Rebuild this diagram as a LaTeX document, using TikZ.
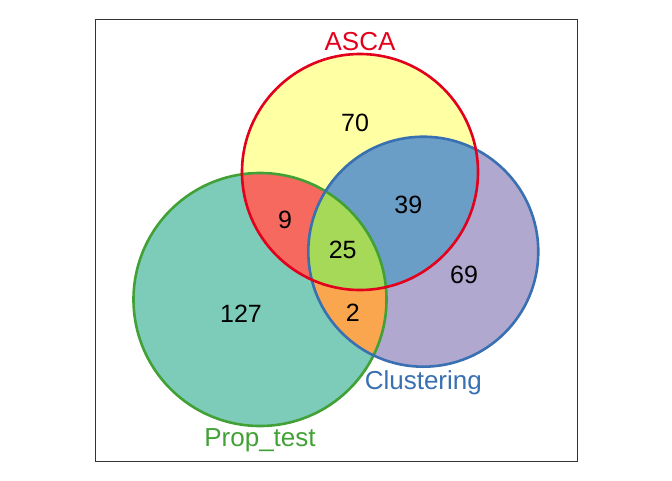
\documentclass[tikz,border=0pt]{standalone}
\usepackage{fontspec}
\setmainfont{Liberation Sans}

\definecolor{ascaline}{rgb}{0.89,0.0,0.11}
\definecolor{clustline}{rgb}{0.22,0.44,0.70}
\definecolor{propline}{rgb}{0.26,0.63,0.21}
\definecolor{ascafill}{rgb}{1.0,1.0,0.64}
\definecolor{clustfill}{rgb}{0.69,0.66,0.81}
\definecolor{propfill}{rgb}{0.49,0.80,0.73}
\definecolor{apfill}{rgb}{0.96,0.41,0.37}
\definecolor{acfill}{rgb}{0.42,0.62,0.78}
\definecolor{cpfill}{rgb}{0.98,0.65,0.31}
\definecolor{acpfill}{rgb}{0.65,0.85,0.34}

\begin{document}
\begin{tikzpicture}[x=1pt,y=-1pt]
    \useasboundingbox (0,0) rectangle (672,480);
    \draw [line width=0.8pt,color=black!80] (95,19)-- (577,19)-- (577,461)-- (95,461)-- cycle;
    % single sets
    \fill[color=ascafill] (360,172) circle (118);
    \fill[color=clustfill] (423.3,251.7) circle (115);
    \fill[color=propfill] (260,299.5) circle (126.5);
    % pairs
    \begin{scope}
        \clip (360,172) circle (118);
        \fill[color=acfill] (423.3,251.7) circle (115);
        \fill[color=apfill] (260,299.5) circle (126.5);
    \end{scope}
    \begin{scope}
        \clip (423.3,251.7) circle (115);
        \fill[color=cpfill] (260,299.5) circle (126.5);
        \clip (260,299.5) circle (126.5);
        \fill[color=acpfill] (360,172) circle (118);
    \end{scope}
    % outlines
    \draw [line width=2.6pt,color=propline] (260,299.5) circle (126.5);
    \draw [line width=2.6pt,color=clustline] (423.3,251.7) circle (115);
    \draw [line width=2.6pt,color=ascaline] (360,172) circle (118);
    \begin{scope}[font=\fontsize{25}{30}\selectfont]
        \node (n70) at (355,122.7) {70};
        \node (n9) at (285,220) {9};
        \node (n39) at (408.3,205) {39};
        \node (n25) at (342.7,250) {25};
        \node (n69) at (464,275) {69};
        \node (n127) at (241,314) {127};
        \node (n2) at (352.7,313) {2};
    \end{scope}
    \begin{scope}[font=\fontsize{26}{31}\selectfont]
        \node[color=ascaline] (asca) at (360,41.7) {ASCA};
        \node[color=clustline] (clust) at (423.3,382.7) {Clustering};
        \node[color=propline] (prop) at (260,440) {Prop\_test};
    \end{scope}
\end{tikzpicture}
\end{document}
